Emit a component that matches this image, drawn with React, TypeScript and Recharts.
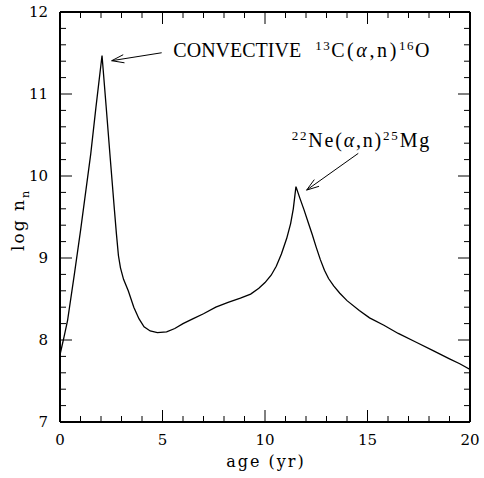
import { LineChart, Line, XAxis, YAxis, ReferenceLine, ReferenceDot } from "recharts";

const FONT = "'DejaVu Serif', serif";
const ANNO_FONT = "'Liberation Serif', 'Times New Roman', serif";

// age in years vs log of neutron density
const ageYr = [
  0, 0.2, 0.37, 0.7, 1.0, 1.25, 1.5, 1.75, 2.05, 2.25, 2.45, 2.65, 2.75, 2.85, 2.95, 3.1,
  3.33, 3.6, 3.85, 4.1, 4.4, 4.75, 5.2, 5.6, 6.0, 6.5, 7.0, 7.6, 8.2, 8.8, 9.3, 9.7, 10.0,
  10.3, 10.55, 10.8, 11.06, 11.25, 11.38, 11.51, 11.7, 11.9, 12.1, 12.3, 12.5, 12.7, 12.9,
  13.1, 13.35, 13.65, 14.0, 14.6, 15.1, 15.8, 16.5, 17.4, 18.2, 19.0, 19.5, 20,
];
const logNn = [
  7.82, 8.04, 8.24, 8.8, 9.33, 9.8, 10.27, 10.83, 11.47, 10.85, 10.22, 9.6, 9.3, 9.03,
  8.88, 8.74, 8.6, 8.4, 8.26, 8.16, 8.11, 8.09, 8.1, 8.14, 8.2, 8.26, 8.32, 8.4, 8.46,
  8.51, 8.56, 8.63, 8.7, 8.79, 8.9, 9.05, 9.24, 9.42, 9.6, 9.87, 9.73, 9.59, 9.44, 9.29,
  9.13, 8.98, 8.85, 8.75, 8.66, 8.57, 8.48, 8.36, 8.27, 8.18, 8.08, 7.97, 7.87, 7.77, 7.71,
  7.64,
];

const xMajorTicks = [0, 5, 10, 15, 20];
const xAllTicks = [0, 1, 2, 3, 4, 5, 6, 7, 8, 9, 10, 11, 12, 13, 14, 15, 16, 17, 18, 19, 20];
const yMajorTicks = [7, 8, 9, 10, 11, 12];
const yAllTicks = [
  7, 7.2, 7.4, 7.6, 7.8, 8, 8.2, 8.4, 8.6, 8.8, 9, 9.2, 9.4, 9.6, 9.8, 10, 10.2, 10.4,
  10.6, 10.8, 11, 11.2, 11.4, 11.6, 11.8, 12,
];

// annotations: text anchor, and arrow [start, tip], in data units
const convText = { x: 5.53, y: 11.455 };
const convArrow = [{ x: 4.96, y: 11.503 }, { x: 2.52, y: 11.406 }];
const neText = { x: 11.3, y: 10.356 };
const neArrow = [{ x: 14.55, y: 10.276 }, { x: 12.03, y: 9.828 }];

const data = ageYr.map((t, i) => ({ t, v: logNn[i] }));

const MAJOR = 12;
const MINOR = 6;

function BottomTick({ x, y, payload }: any) {
  const major = xMajorTicks.includes(payload.value);
  return (
    <g>
      <line x1={x} x2={x} y1={y} y2={y - (major ? MAJOR : MINOR)} stroke="#000" strokeWidth={1} />
      {major && (
        <text x={x} y={y + 23} textAnchor="middle" fontFamily={FONT} fontSize={15} fill="#000">
          {payload.value}
        </text>
      )}
    </g>
  );
}

function TopTick({ x, y, payload }: any) {
  const major = xMajorTicks.includes(payload.value);
  return <line x1={x} x2={x} y1={y} y2={y + (major ? MAJOR : MINOR)} stroke="#000" strokeWidth={1} />;
}

function LeftTick({ x, y, payload }: any) {
  const major = yMajorTicks.includes(payload.value);
  return (
    <g>
      <line x1={x} x2={x + (major ? MAJOR : MINOR)} y1={y} y2={y} stroke="#000" strokeWidth={1} />
      {major && (
        <text x={x - 12} y={y} dy="0.36em" textAnchor="end" fontFamily={FONT} fontSize={15} fill="#000">
          {payload.value}
        </text>
      )}
    </g>
  );
}

function RightTick({ x, y, payload }: any) {
  const major = yMajorTicks.includes(payload.value);
  return <line x1={x} x2={x - (major ? MAJOR : MINOR)} y1={y} y2={y} stroke="#000" strokeWidth={1} />;
}

function XLabel(props: any) {
  const vb = props.viewBox ?? { x: 60, y: 422, width: 410, height: 56 };
  return (
    <text
      x={vb.x + vb.width / 2 + 1}
      y={vb.y + 45}
      textAnchor="middle"
      fontFamily={FONT}
      fontSize={16}
      letterSpacing={2}
      fill="#000"
    >
      age (yr)
    </text>
  );
}

function YLabel(props: any) {
  const vb = props.viewBox ?? { x: 0, y: 12, width: 60, height: 410 };
  const cx = vb.x + 24;
  const cy = vb.y + vb.height / 2 + 3;
  return (
    <text
      x={cx}
      y={cy}
      transform={`rotate(-90 ${cx} ${cy})`}
      textAnchor="middle"
      fontFamily={FONT}
      fontSize={17}
      letterSpacing={2}
      fill="#000"
    >
      log n
      <tspan fontSize={11} dy={5}>n</tspan>
    </text>
  );
}

function Arrow({ x1, y1, x2, y2 }: any) {
  const ang = Math.atan2(y2 - y1, x2 - x1) + Math.PI;
  const len = 13;
  const spread = 0.32;
  const p1 = `${x2 + len * Math.cos(ang - spread)},${y2 + len * Math.sin(ang - spread)}`;
  const p2 = `${x2 + len * Math.cos(ang + spread)},${y2 + len * Math.sin(ang + spread)}`;
  return (
    <g>
      <line x1={x1} y1={y1} x2={x2} y2={y2} stroke="#000" strokeWidth={1} />
      <polyline points={`${p1} ${x2},${y2} ${p2}`} fill="none" stroke="#000" strokeWidth={1} />
    </g>
  );
}

function ConvText({ cx, cy }: any) {
  return (
    <text x={cx} y={cy} fontFamily={ANNO_FONT} fontSize={20} fill="#000">
      CONVECTIVE
      <tspan dx={14} dy={-7} fontSize={13} letterSpacing={1.5}>13</tspan>
      <tspan dy={7} letterSpacing={2.6}>
        C(<tspan fontStyle="italic">α</tspan>,n)
      </tspan>
      <tspan dy={-7} fontSize={13} letterSpacing={1.5}>16</tspan>
      <tspan dy={7} letterSpacing={2.6}>O</tspan>
    </text>
  );
}

function NeText({ cx, cy }: any) {
  return (
    <text x={cx} y={cy} fontFamily={ANNO_FONT} fontSize={20} fill="#000" letterSpacing={1.8}>
      <tspan dy={-7} fontSize={13}>22</tspan>
      <tspan dy={7}>
        Ne(<tspan fontStyle="italic">α</tspan>,n)
      </tspan>
      <tspan dy={-7} fontSize={13}>25</tspan>
      <tspan dy={7}>Mg</tspan>
    </text>
  );
}

export default function App() {
  const axisLine = { stroke: "#000", strokeWidth: 2 };
  return (
    <div style={{ position: "absolute", left: 0, top: 0, background: "#fff" }}>
      <LineChart
        width={484}
        height={478}
        data={data}
        margin={{ top: 11, right: 13, bottom: 0, left: 0 }}
      >
        <XAxis
          xAxisId="b"
          dataKey="t"
          type="number"
          domain={[0, 20]}
          ticks={xAllTicks}
          interval={0}
          height={56}
          tickSize={0}
          tickMargin={0}
          tickLine={false}
          axisLine={axisLine}
          tick={(p: any) => <BottomTick {...p} />}
          label={(p: any) => <XLabel {...p} />}
          allowDataOverflow
        />
        <XAxis
          xAxisId="t"
          orientation="top"
          dataKey="t"
          type="number"
          domain={[0, 20]}
          ticks={xAllTicks}
          interval={0}
          height={1}
          tickSize={0}
          tickMargin={0}
          tickLine={false}
          axisLine={axisLine}
          tick={(p: any) => <TopTick {...p} />}
          allowDataOverflow
        />
        <YAxis
          yAxisId="l"
          type="number"
          domain={[7, 12]}
          ticks={yAllTicks}
          interval={0}
          width={60}
          tickSize={0}
          tickMargin={0}
          tickLine={false}
          axisLine={axisLine}
          tick={(p: any) => <LeftTick {...p} />}
          label={(p: any) => <YLabel {...p} />}
          allowDataOverflow
        />
        <YAxis
          yAxisId="r"
          orientation="right"
          type="number"
          domain={[7, 12]}
          ticks={yAllTicks}
          interval={0}
          width={1}
          tickSize={0}
          tickMargin={0}
          tickLine={false}
          axisLine={axisLine}
          tick={(p: any) => <RightTick {...p} />}
          allowDataOverflow
        />
        <Line
          xAxisId="b"
          yAxisId="l"
          type="linear"
          dataKey="v"
          stroke="#000"
          strokeWidth={1.3}
          dot={false}
          isAnimationActive={false}
        />
        <ReferenceLine
          xAxisId="b"
          yAxisId="l"
          segment={convArrow}
          shape={(p: any) => <Arrow {...p} />}
        />
        <ReferenceLine
          xAxisId="b"
          yAxisId="l"
          segment={neArrow}
          shape={(p: any) => <Arrow {...p} />}
        />
        <ReferenceDot
          xAxisId="b"
          yAxisId="l"
          x={convText.x}
          y={convText.y}
          r={0}
          shape={(p: any) => <ConvText {...p} />}
        />
        <ReferenceDot
          xAxisId="b"
          yAxisId="l"
          x={neText.x}
          y={neText.y}
          r={0}
          shape={(p: any) => <NeText {...p} />}
        />
      </LineChart>
    </div>
  );
}
